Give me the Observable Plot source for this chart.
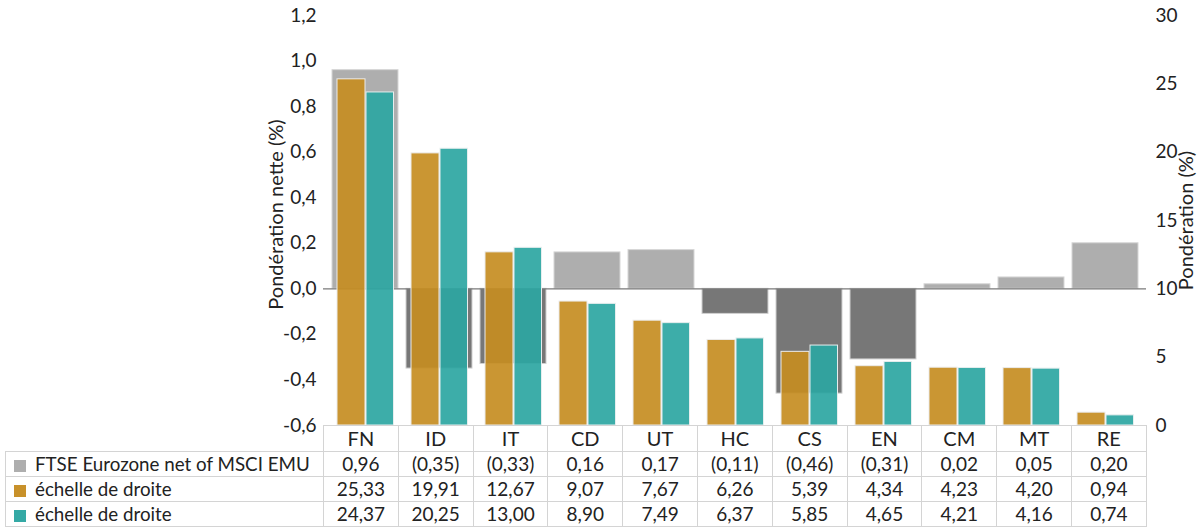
<!DOCTYPE html>
<html>
<head>
<meta charset="utf-8">
<script src="https://cdn.jsdelivr.net/npm/d3@7"></script>
<script src="https://cdn.jsdelivr.net/npm/@observablehq/plot@0.6"></script>
<style>
  html, body { margin: 0; padding: 0; background: #fff; }
  #wrap { position: relative; width: 1200px; height: 532px; font-family: Lato, "Noto Sans", sans-serif; color: #222; }
  #chart { position: absolute; left: 0; top: 0; }
  table { position: absolute; left: 5px; top: 425px; border-collapse: collapse; table-layout: fixed; font-size: 19px; }
  td { border: 1px solid #d4d4d4; text-align: center; padding: 0; height: 24px; line-height: 24px; white-space: nowrap; }
  tr.head td { height: 25px; line-height: 25px; font-size: 20px; }
  tr.head td.blank { border: none; }
  td.leg { text-align: left; padding-left: 8px; font-size: 18.75px; }
  .sw { display: inline-block; width: 12px; height: 12px; margin-right: 9px; vertical-align: -1px; }
</style>
</head>
<body>
<div id="wrap">
  <div id="chart"></div>
  <table id="tbl"></table>
</div>
<script>
const categories = ["FN", "ID", "IT", "CD", "UT", "HC", "CS", "EN", "CM", "MT", "RE"];
const netWeights = [0.96, -0.35, -0.33, 0.16, 0.17, -0.11, -0.46, -0.31, 0.02, 0.05, 0.20];
const ftseWeights = [25.33, 19.91, 12.67, 9.07, 7.67, 6.26, 5.39, 4.34, 4.23, 4.20, 0.94];
const msciWeights = [24.37, 20.25, 13.00, 8.90, 7.49, 6.37, 5.85, 4.65, 4.21, 4.16, 0.74];
const seriesLabels = ["FTSE Eurozone net of MSCI EMU", "échelle de droite", "échelle de droite"];
const seriesColors = ["#AEAEAE", "#C8912A", "#34A9A5"];
const leftTicks = [-0.6, -0.4, -0.2, 0, 0.2, 0.4, 0.6, 0.8, 1.0, 1.2];
const rightTicks = [0, 5, 10, 15, 20, 25, 30];
const leftAxisTitle = "Pondération nette (%)";
const rightAxisTitle = "Pondération (%)";

const leftMin = -0.6, leftMax = 1.2, rightMax = 30;
const toLeft = v => leftMin + v * (leftMax - leftMin) / rightMax;
const fromLeft = d => (d - leftMin) * rightMax / (leftMax - leftMin);
const fmtComma = (v, n) => v.toFixed(n).replace(".", ",");

const rows = categories.map((c, i) => ({cat: c, net: netWeights[i], a: ftseWeights[i], b: msciWeights[i]}));

const chart = Plot.plot({
  width: 1200,
  height: 426,
  marginLeft: 323,
  marginRight: 54,
  marginTop: 15,
  marginBottom: 1,
  style: {fontFamily: "Lato, 'Noto Sans', sans-serif", fontSize: "19px", color: "#222", background: "white", overflow: "visible"},
  x: {domain: categories, paddingInner: 0, paddingOuter: 0, axis: null},
  y: {domain: [leftMin, leftMax], axis: null},
  marks: [
    Plot.barY(rows, {filter: d => d.net >= 0, x: "cat", y: "net", fill: "#AEAEAE", stroke: "#d6d6d6", strokeWidth: 1, insetLeft: 4, insetRight: 4}),
    Plot.barY(rows, {filter: d => d.net < 0, x: "cat", y: "net", fill: "#777777", stroke: "#d0d0d0", strokeWidth: 1, insetLeft: 4, insetRight: 4}),
    Plot.ruleY([0], {stroke: "#7a7a7a", strokeWidth: 1.3}),
    Plot.barY(rows, {x: "cat", y1: leftMin, y2: d => toLeft(d.a), fill: "#C68D22", fillOpacity: 0.92, stroke: "#ececec", strokeWidth: 1, insetLeft: 9, insetRight: 37}),
    Plot.barY(rows, {x: "cat", y1: leftMin, y2: d => toLeft(d.b), fill: "#2CA6A2", fillOpacity: 0.92, stroke: "#e6eeee", strokeWidth: 1, insetLeft: 38, insetRight: 8.5}),
    Plot.axisY(leftTicks, {anchor: "left", tickSize: 0, tickPadding: 7, tickFormat: d => fmtComma(d, 1), label: null}),
    Plot.axisY(rightTicks.map(toLeft), {anchor: "right", tickSize: 0, tickPadding: 9, tickFormat: d => String(Math.round(fromLeft(d))), label: null}),
    Plot.text([leftAxisTitle], {frameAnchor: "left", rotate: -90, dx: -47, dy: -6, textAnchor: "middle", lineAnchor: "middle", fontSize: 20, fill: "#222"}),
    Plot.text([rightAxisTitle], {frameAnchor: "right", rotate: -90, dx: 40, dy: 0, textAnchor: "middle", lineAnchor: "middle", fontSize: 20, fill: "#222"})
  ]
});
document.getElementById("chart").appendChild(chart);

// data table
const tbl = document.getElementById("tbl");
const colgroup = document.createElement("colgroup");
const c0 = document.createElement("col"); c0.style.width = "318px"; colgroup.appendChild(c0);
categories.forEach(() => { const c = document.createElement("col"); c.style.width = "74.8px"; colgroup.appendChild(c); });
tbl.appendChild(colgroup);

const head = document.createElement("tr"); head.className = "head";
const blank = document.createElement("td"); blank.className = "blank"; head.appendChild(blank);
categories.forEach(c => { const td = document.createElement("td"); td.textContent = c; head.appendChild(td); });
tbl.appendChild(head);

const fmtNet = v => v < 0 ? "(" + fmtComma(-v, 2) + ")" : fmtComma(v, 2);
const seriesData = [netWeights.map(fmtNet), ftseWeights.map(v => fmtComma(v, 2)), msciWeights.map(v => fmtComma(v, 2))];
seriesData.forEach((vals, k) => {
  const tr = document.createElement("tr");
  const lg = document.createElement("td"); lg.className = "leg";
  const sw = document.createElement("span"); sw.className = "sw"; sw.style.background = seriesColors[k];
  lg.appendChild(sw); lg.appendChild(document.createTextNode(seriesLabels[k]));
  tr.appendChild(lg);
  vals.forEach(v => { const td = document.createElement("td"); td.textContent = v; tr.appendChild(td); });
  tbl.appendChild(tr);
});
</script>
</body>
</html>
